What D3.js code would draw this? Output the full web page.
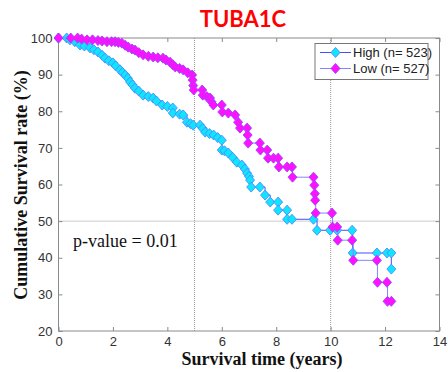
<!DOCTYPE html>
<html>
<head>
<meta charset="utf-8">
<script src="https://cdn.jsdelivr.net/npm/d3@7"></script>
<style>
  html, body { margin: 0; padding: 0; background: #fff; }
  svg { display: block; }
</style>
</head>
<body>
<svg id="chart" width="448" height="372"></svg>
<script>
// Kaplan–Meier survival estimates for TUBA1C expression groups
const highTime = [0, 0.3, 0.42, 0.6, 0.79, 0.95, 1.16, 1.3, 1.45, 1.6, 1.71, 1.85, 2.0, 2.1, 2.26, 2.35, 2.45, 2.55, 2.63, 2.72, 2.81, 2.95, 3.11, 3.3, 3.48, 3.6, 3.81, 4.0, 4.2, 4.2, 4.45, 4.58, 4.72, 4.85, 4.95, 5.2, 5.3, 5.39, 5.55, 5.7, 5.85, 6.0, 6.0, 6.1, 6.24, 6.4, 6.55, 6.74, 6.85, 6.93, 7.0, 7.04, 7.08, 7.4, 7.59, 7.78, 8.07, 8.07, 8.4, 8.4, 8.58, 9.37, 9.5, 9.98, 10.24, 10.79, 10.81, 11.7, 12.07, 12.23, 12.23];
const highSurv = [100, 100, 99.5, 99, 98.1, 97.8, 97.3, 96.8, 96.2, 95.3, 94.5, 93.8, 93.2, 92.4, 91.3, 90.6, 89.9, 89, 88, 87.2, 86.3, 85.5, 84.4, 84, 83.6, 82.8, 81.7, 81.3, 80.9, 79.5, 79.2, 79, 77, 76.6, 76.2, 76.2, 75.3, 74.3, 73.9, 73.5, 72.8, 72.1, 69.4, 69.2, 68.6, 67.4, 66.1, 65.3, 64.2, 63.1, 62.2, 61.2, 59.3, 59.3, 57.1, 55.2, 55.2, 53, 53, 50.5, 50.5, 50.5, 47.5, 47.5, 47.5, 47.5, 41.3, 41.3, 41.3, 41.3, 36.9];

const lowTime = [0, 0.45, 0.7, 0.85, 1.05, 1.25, 1.45, 1.6, 1.78, 1.95, 2.08, 2.2, 2.33, 2.45, 2.56, 2.7, 2.81, 2.95, 3.11, 3.3, 3.48, 3.65, 3.84, 3.95, 4.1, 4.2, 4.29, 4.45, 4.58, 4.75, 4.91, 4.93, 4.95, 4.97, 5.28, 5.3, 5.45, 5.57, 5.62, 5.69, 6.0, 6.02, 6.24, 6.49, 6.6, 6.67, 6.93, 6.95, 6.97, 7.4, 7.42, 7.67, 7.7, 7.9, 8.07, 8.1, 8.4, 8.58, 8.6, 9.37, 9.4, 9.42, 9.43, 9.45, 10.05, 10.07, 10.24, 10.26, 10.79, 10.83, 11.7, 11.72, 12.07, 12.09, 12.23];
const lowSurv = [100, 100, 100, 99.7, 99.5, 99.5, 99.3, 99.2, 99, 99, 99, 98.8, 98.6, 98, 97.5, 97, 96.7, 96, 95.4, 95, 94.8, 94.6, 94.5, 94, 93.4, 92.7, 92.1, 91.7, 91.3, 90.5, 89.9, 88.5, 87, 85.8, 85.8, 84.4, 84, 83.6, 82.6, 81.7, 81.7, 79.8, 79.5, 79, 77, 75.4, 75.4, 73.5, 71.3, 71.3, 69.4, 69.4, 67.2, 67.2, 67.2, 64.8, 64.8, 64.8, 62, 62, 59.8, 57.5, 55.7, 52.2, 52.2, 48.4, 48.4, 44.8, 44.8, 39.3, 39.3, 33.3, 33.3, 28.1, 28.1];

const seriesNames = ["High (n= 523)", "Low (n= 527)"];
const xTicks = [0, 2, 4, 6, 8, 10, 12, 14];
const yTicks = [20, 30, 40, 50, 60, 70, 80, 90, 100];
const refYears = [5, 10];
const refRate = 50;
const pValueText = "p-value = 0.01";

const svg = d3.select("#chart");
const plotL = 58.5, plotR = 439.5, plotT = 38, plotB = 331;

const x = d3.scaleLinear().domain([0, 14]).range([plotL, plotR]);
const y = d3.scaleLinear().domain([20, 100]).range([plotB, plotT]);

const axisColor = "#8a8a8a";

// reference lines
const ref = svg.append("g").attr("stroke", "#9a9a9a").attr("stroke-width", 1).attr("stroke-dasharray", "1,1");
refYears.forEach(t => ref.append("line").attr("x1", x(t)).attr("x2", x(t)).attr("y1", plotT).attr("y2", plotB));
ref.append("line").attr("x1", plotL).attr("x2", plotR).attr("y1", y(refRate)).attr("y2", y(refRate));

// axes (ticks point inward on all four sides)
const fontTick = "'Liberation Sans', Arial, sans-serif";
function styleAxis(g) {
  g.selectAll(".domain").remove();
  g.selectAll(".tick line").attr("stroke", axisColor);
  g.selectAll(".tick text").attr("fill", "#333").style("font-family", fontTick).style("font-size", "13px");
}
svg.append("g").attr("transform", `translate(0,${plotB})`)
  .call(d3.axisBottom(x).tickValues(xTicks).tickSize(-4).tickPadding(6))
  .call(styleAxis);
svg.append("g").attr("transform", `translate(0,${plotT})`)
  .call(d3.axisTop(x).tickValues(xTicks).tickSize(-4).tickFormat(""))
  .call(styleAxis);
svg.append("g").attr("transform", `translate(${plotL},0)`)
  .call(d3.axisLeft(y).tickValues(yTicks).tickSize(-4).tickPadding(6))
  .call(styleAxis);
svg.append("g").attr("transform", `translate(${plotR},0)`)
  .call(d3.axisRight(y).tickValues(yTicks).tickSize(-4).tickFormat(""))
  .call(styleAxis);

svg.append("rect").attr("x", plotL).attr("y", plotT).attr("width", plotR - plotL).attr("height", plotB - plotT)
  .attr("fill", "none").attr("stroke", axisColor).attr("stroke-width", 1);

// diamond marker
const diamond = "M0,-5L4.5,0L0,5L-4.5,0Z";

const series = [
  { t: highTime, s: highSurv, line: "#4a4aff", fill: "#10e4ff", stroke: "#4a8cff" },
  { t: lowTime, s: lowSurv, line: "#8484ff", fill: "#ff10ff", stroke: "#a040ff" }
];

const lineGen = d3.line().x(d => x(d[0])).y(d => y(d[1])).curve(d3.curveStepAfter);

series.forEach(sr => {
  const pts = sr.t.map((t, i) => [t, sr.s[i]]);
  const g = svg.append("g");
  g.append("path").datum(pts).attr("d", lineGen)
    .attr("fill", "none").attr("stroke", sr.line).attr("stroke-width", 1);
  g.selectAll("path.mk").data(pts).join("path").attr("class", "mk")
    .attr("d", diamond)
    .attr("transform", d => `translate(${x(d[0])},${y(d[1])})`)
    .attr("fill", sr.fill).attr("stroke", sr.stroke).attr("stroke-width", 0.9);
});

// legend
const lg = svg.append("g");
lg.append("rect").attr("x", 315).attr("y", 43.5).attr("width", 113).attr("height", 36)
  .attr("fill", "#fff").attr("stroke", "#777").attr("stroke-width", 1);
series.forEach((sr, i) => {
  const ly = 52.5 + i * 16;
  lg.append("line").attr("x1", 320).attr("x2", 351).attr("y1", ly).attr("y2", ly)
    .attr("stroke", sr.line).attr("stroke-width", 1);
  lg.append("path").attr("d", diamond).attr("transform", `translate(335.5,${ly})`)
    .attr("fill", sr.fill).attr("stroke", sr.stroke).attr("stroke-width", 0.9);
  lg.append("text").attr("x", 353).attr("y", ly + 4.5).text(seriesNames[i])
    .style("font-family", fontTick).style("font-size", "13px").attr("fill", "#222");
});

// p-value annotation
svg.append("text").attr("x", 73).attr("y", 247).text(pValueText)
  .style("font-family", "'Liberation Serif', 'Times New Roman', serif").style("font-size", "18px").attr("fill", "#111");

// title and axis titles
svg.append("text").attr("x", 243).attr("y", 27).attr("text-anchor", "middle").text("TUBA1C")
  .style("font-family", "Lato, 'Open Sans', sans-serif").style("font-weight", "bold").style("font-size", "22px").attr("fill", "#ff0000");

svg.append("text").attr("x", 262).attr("y", 365).attr("text-anchor", "middle").text("Survival time (years)")
  .style("font-family", "'Liberation Serif', 'Times New Roman', serif").style("font-weight", "bold").style("font-size", "18px").attr("fill", "#111");

svg.append("text").attr("transform", "translate(27,185) rotate(-90)").attr("text-anchor", "middle")
  .text("Cumulative Survival rate (%)")
  .style("font-family", "'Liberation Serif', 'Times New Roman', serif").style("font-weight", "bold").style("font-size", "18px").attr("fill", "#111");
</script>
</body>
</html>
